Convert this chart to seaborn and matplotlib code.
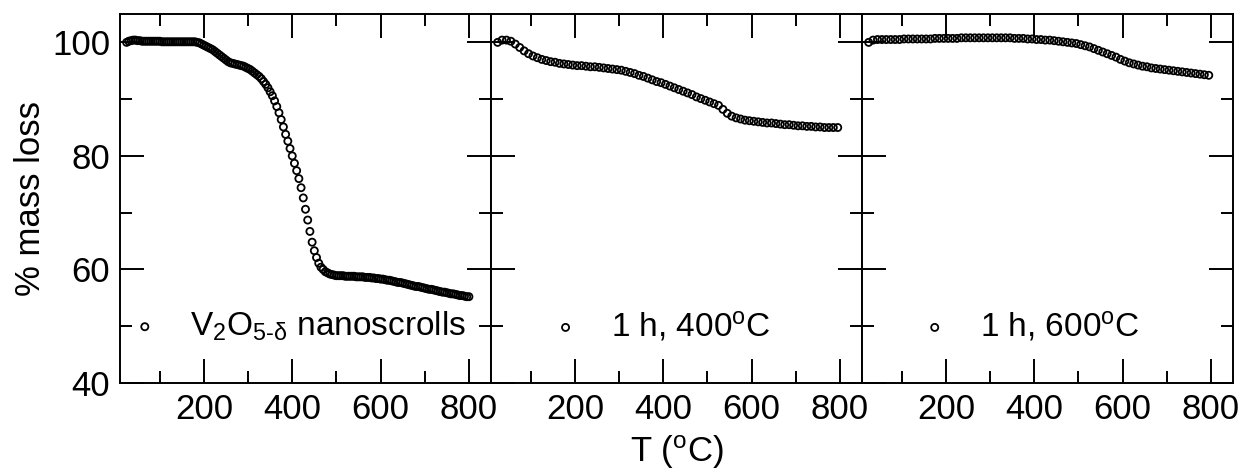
import seaborn as sns
import matplotlib.pyplot as plt
import numpy as np

# -----------------------------------------------------------------------------
# TGA curves (% mass vs temperature)
# -----------------------------------------------------------------------------

# as-made nanoscrolls, sampled every 5 C from 25 to 800 C
temp_scrolls = np.arange(25, 801, 5)
mass_scrolls = [
    100.0, 100.2, 100.3, 100.4, 100.4, 100.3, 100.3, 100.2, 100.2, 100.2,
    100.2, 100.2, 100.2, 100.2, 100.2, 100.2, 100.1, 100.1, 100.1, 100.1,
    100.1, 100.1, 100.1, 100.1, 100.1, 100.1, 100.1, 100.1, 100.1, 100.1,
    100.1, 100.1, 100.0, 99.9, 99.7, 99.5, 99.3, 99.1, 98.9, 98.7,
    98.4, 98.1, 97.8, 97.5, 97.2, 96.9, 96.6, 96.4, 96.3, 96.2,
    96.1, 96.0, 95.9, 95.8, 95.6, 95.4, 95.2, 94.9, 94.6, 94.3,
    94.0, 93.6, 93.1, 92.6, 92.0, 91.3, 90.6, 89.7, 88.7, 87.6,
    86.4, 85.1, 83.8, 82.6, 81.3, 80.0, 78.7, 77.4, 76.0, 74.4,
    72.6, 70.6, 68.7, 66.7, 64.8, 63.3, 62.1, 61.1, 60.4, 60.0,
    59.6, 59.4, 59.2, 59.1, 59.0, 58.9, 58.9, 58.9, 58.9, 58.8,
    58.8, 58.8, 58.8, 58.8, 58.7, 58.7, 58.7, 58.7, 58.6, 58.6,
    58.6, 58.5, 58.5, 58.4, 58.4, 58.3, 58.3, 58.2, 58.1, 58.1,
    58.0, 57.9, 57.8, 57.7, 57.7, 57.6, 57.5, 57.4, 57.3, 57.2,
    57.1, 57.0, 57.0, 56.9, 56.8, 56.7, 56.6, 56.5, 56.5, 56.4,
    56.3, 56.2, 56.1, 56.0, 56.0, 55.9, 55.8, 55.7, 55.7, 55.6,
    55.5, 55.4, 55.4, 55.3, 55.2, 55.2,
]

# annealed samples, sampled every 10 C from 25 to 795 C
temp_annealed = np.arange(25, 796, 10)
mass_400 = [
    100.0, 100.4, 100.4, 100.2, 99.7, 99.1, 98.5, 98.0, 97.6, 97.3,
    97.0, 96.8, 96.6, 96.5, 96.3, 96.2, 96.1, 96.0, 95.9, 95.9,
    95.8, 95.7, 95.7, 95.6, 95.5, 95.4, 95.3, 95.2, 95.1, 94.9,
    94.7, 94.5, 94.2, 94.0, 93.7, 93.4, 93.1, 92.9, 92.6, 92.3,
    92.0, 91.7, 91.4, 91.1, 90.8, 90.4, 90.1, 89.8, 89.5, 89.2,
    88.9, 88.2, 87.5, 87.0, 86.7, 86.5, 86.3, 86.2, 86.1, 86.0,
    85.9, 85.8, 85.8, 85.7, 85.6, 85.5, 85.5, 85.4, 85.3, 85.3,
    85.2, 85.2, 85.1, 85.1, 85.0, 85.0, 85.0, 85.0,
]
mass_600 = [
    100.0, 100.4, 100.5, 100.5, 100.5, 100.5, 100.5, 100.5, 100.6, 100.6,
    100.6, 100.6, 100.6, 100.6, 100.6, 100.7, 100.7, 100.7, 100.7, 100.7,
    100.7, 100.8, 100.8, 100.8, 100.8, 100.8, 100.8, 100.8, 100.8, 100.8,
    100.8, 100.8, 100.8, 100.7, 100.7, 100.7, 100.6, 100.6, 100.5, 100.5,
    100.4, 100.4, 100.3, 100.2, 100.1, 100.0, 99.9, 99.8, 99.6, 99.4,
    99.2, 98.9, 98.6, 98.3, 98.0, 97.7, 97.4, 97.0, 96.7, 96.4,
    96.2, 96.0, 95.8, 95.7, 95.5, 95.4, 95.3, 95.2, 95.1, 95.0,
    94.9, 94.8, 94.7, 94.6, 94.5, 94.4, 94.3, 94.2,
]

labels = [
    r"V$_2$O$_{5\text{-}\mathrm{δ}}$ nanoscrolls",
    r"1 h, 400$^\mathrm{o}$C",
    r"1 h, 600$^\mathrm{o}$C",
]
legend_x = [0.022, 0.156, 0.151]

# -----------------------------------------------------------------------------
# Styling
# -----------------------------------------------------------------------------

sns.set_style("ticks")
plt.rcParams["font.family"] = ["Liberation Sans", "DejaVu Sans"]
plt.rcParams["mathtext.fontset"] = "custom"
plt.rcParams["mathtext.rm"] = "Liberation Sans"
plt.rcParams["mathtext.it"] = "Liberation Sans"
plt.rcParams["mathtext.bf"] = "Liberation Sans:bold"
for key in ["text.color", "axes.labelcolor", "xtick.color", "ytick.color",
            "axes.edgecolor"]:
    plt.rcParams[key] = "black"

fig, axes = plt.subplots(1, 3, figsize=(12.42, 4.74), dpi=100, sharey=True)
fig.subplots_adjust(left=0.0966, right=0.9928, bottom=0.192, top=0.9705, wspace=0)

series = [
    (temp_scrolls, mass_scrolls),
    (temp_annealed, mass_400),
    (temp_annealed, mass_600),
]

for i, (ax, (t, m)) in enumerate(zip(axes, series)):
    sns.scatterplot(
        x=t, y=m, ax=ax, marker="o", s=26,
        facecolors="none", edgecolors="black", linewidths=1.3,
        label=labels[i], legend=False,
    )
    ax.set_xlim(10, 850)
    ax.set_ylim(40, 105)
    ax.set_xticks([200, 400, 600, 800])
    ax.set_xticks([100, 300, 500, 700], minor=True)
    ax.set_yticks([40, 60, 80, 100])
    ax.set_yticks([50, 70, 90], minor=True)
    ax.tick_params(which="both", direction="in", top=True, right=True,
                   width=1.4, labelsize=25, pad=7)
    ax.tick_params(which="major", length=17)
    ax.tick_params(which="minor", length=8.5)
    for sp in ax.spines.values():
        sp.set_linewidth(1.4)
    ax.set_xlabel("")
    ax.set_ylabel("")
    ax.legend(
        loc="center left", bbox_to_anchor=(legend_x[i], 0.154), frameon=False,
        fontsize=24, handletextpad=0.85, markerscale=1.0,
        handlelength=1.0, borderpad=0, borderaxespad=0,
    )

axes[0].set_ylabel("% mass loss", fontsize=25, labelpad=4)
for ax in axes[1:]:
    ax.tick_params(labelleft=False)

fig.text(0.5448, 0.045, r"T ($^\mathrm{o}$C)", ha="center", va="center", fontsize=25)

plt.savefig("out.png", dpi=100, facecolor="white")
plt.close()
